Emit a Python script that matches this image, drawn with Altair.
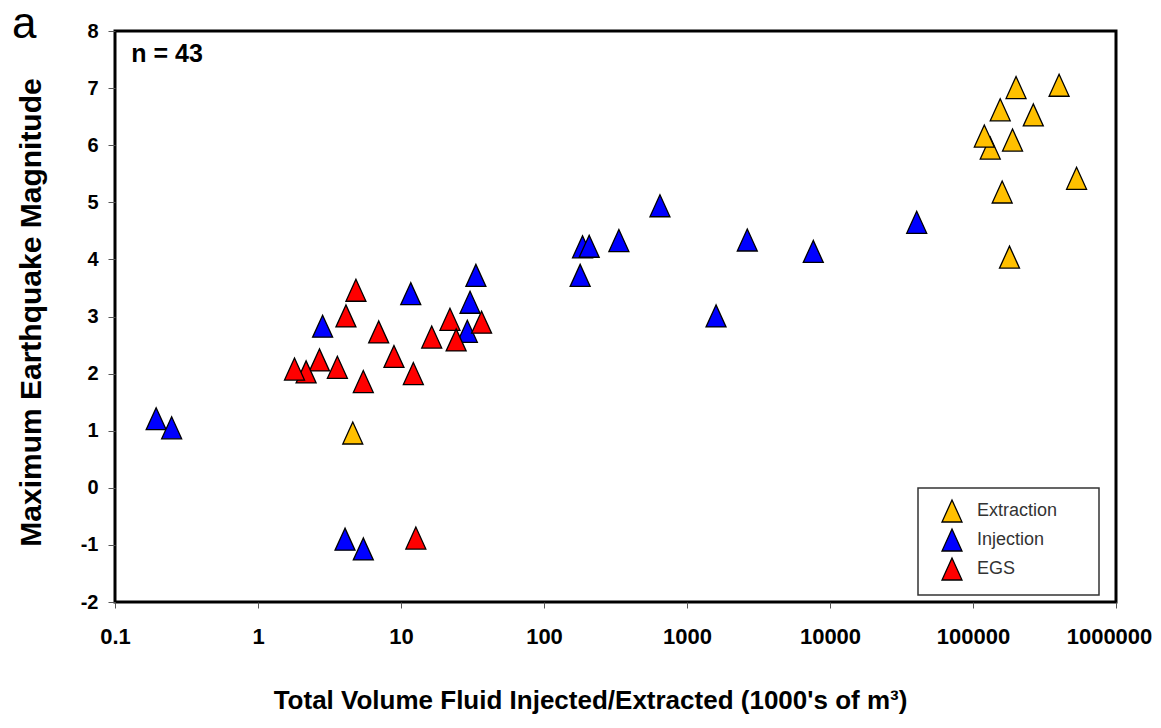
import altair as alt
import pandas as pd

# ---- data ----
types = ["Extraction", "Injection", "EGS"]
colors = ["#FFC000", "#0000FF", "#FF0000"]

ext_vol = [200000, 400000, 155000, 264000, 132000, 120000, 189000, 530000, 160000, 180000, 4.6]
ext_mag = [7.01, 7.05, 6.62, 6.53, 5.95, 6.16, 6.09, 5.42, 5.18, 4.04, 0.96]

inj_vol = [0.194, 0.249, 4.06, 5.45, 2.83, 11.7, 33.4, 30.4, 29.1, 647, 334, 186, 207, 179, 1596, 2640, 7640, 40400]
inj_mag = [1.21, 1.05, -0.90, -1.07, 2.83, 3.40, 3.72, 3.25, 2.74, 4.94, 4.33, 4.22, 4.23, 3.72, 3.01, 4.34, 4.14, 4.65]

egs_vol = [12.7, 4.84, 4.12, 6.98, 22.0, 36.6, 16.4, 24.3, 8.93, 2.69, 3.59, 2.17, 1.80, 12.2, 5.45]
egs_mag = [-0.88, 3.46, 3.01, 2.73, 2.95, 2.90, 2.64, 2.59, 2.30, 2.24, 2.11, 2.03, 2.08, 2.00, 1.86]

x_ticks = [0.1, 1, 10, 100, 1000, 10000, 100000, 1000000]
y_ticks = [-2, -1, 0, 1, 2, 3, 4, 5, 6, 7, 8]

rows = []
for t, xs, ys in [(types[0], ext_vol, ext_mag), (types[1], inj_vol, inj_mag), (types[2], egs_vol, egs_mag)]:
    for xv, yv in zip(xs, ys):
        rows.append({"Type": t, "Volume": xv, "Magnitude": yv})
df = pd.DataFrame(rows)

FONT = "Liberation Sans"
TRI = "M0,-1.1L-1,1.1L1,1.1Z"

xscale = alt.Scale(type="log", domain=[0.1, 1000000])
yscale = alt.Scale(domain=[-2, 8], nice=False)

points = alt.Chart(df).mark_point(
    shape=TRI, filled=True, size=400, stroke="black", strokeWidth=1.3, opacity=1
).encode(
    x=alt.X("Volume:Q", scale=xscale, axis=alt.Axis(
        values=x_ticks, format="~f", labelFlush=False,
        labelOffset={"condition": {"test": "datum.value >= 1000000", "value": -7}, "value": 0},
        title="Total Volume Fluid Injected/Extracted (1000's of m³)",
        titleFontSize=26, titleFontWeight="bold", titleX=475, titleY=98,
        titleBaseline="middle", titleColor="black",
        labelFontSize=22, labelFontWeight="bold", labelColor="black",
        labelPadding=18, tickSize=6, tickColor="#555", domain=False, grid=False)),
    y=alt.Y("Magnitude:Q", scale=yscale, axis=alt.Axis(
        values=y_ticks, labelExpr="'' + datum.value", title="Maximum Earthquake Magnitude",
        titleFontSize=30, titleFontWeight="bold", titleX=-84, titleY=281,
        titleBaseline="middle", titleAngle=-90, titleColor="black",
        labelFontSize=20, labelFontWeight="bold", labelColor="black",
        labelPadding=10, tickSize=7, tickColor="#555", domain=False, grid=False)),
    color=alt.Color("Type:N", scale=alt.Scale(domain=types, range=colors), legend=alt.Legend(
        title="MM", titleOrient="right", titleColor="white", titleFontSize=16, titlePadding=3,
        orient="none", legendX=803, legendY=457, direction="vertical",
        symbolType=TRI, symbolSize=400, symbolStrokeColor="black", symbolStrokeWidth=1.3,
        symbolOffset=11, labelFont=FONT, labelFontSize=18, labelColor="#333", labelOffset=14,
        rowPadding=1, padding=12, strokeColor="#333", fillColor="white")),
)

n_df = pd.DataFrame({"Volume": [0.13], "Magnitude": [7.6], "label": ["n = 43"]})
n_text = alt.Chart(n_df).mark_text(
    align="left", baseline="middle", fontSize=25, fontWeight="bold", color="black", font=FONT
).encode(x=alt.X("Volume:Q", scale=xscale), y=alt.Y("Magnitude:Q", scale=yscale), text="label:N")

a_df = pd.DataFrame({"label": ["a"]})
a_text = alt.Chart(a_df).mark_text(
    align="left", baseline="alphabetic", fontSize=44, fontWeight="normal", color="black", font=FONT
).encode(x=alt.value(-103), y=alt.value(7), text="label:N")

chart = alt.layer(points, n_text, a_text).properties(
    width=1001, height=571,
    padding={"left": 107, "top": 23, "right": 37, "bottom": 114},
    autosize=alt.AutoSizeParams(type="none"),
).configure(font=FONT).configure_view(
    stroke="black", strokeWidth=3
).configure_legend(strokeWidth=1.5)

chart.save("out.html", embed_options={"renderer": "svg", "actions": False})
